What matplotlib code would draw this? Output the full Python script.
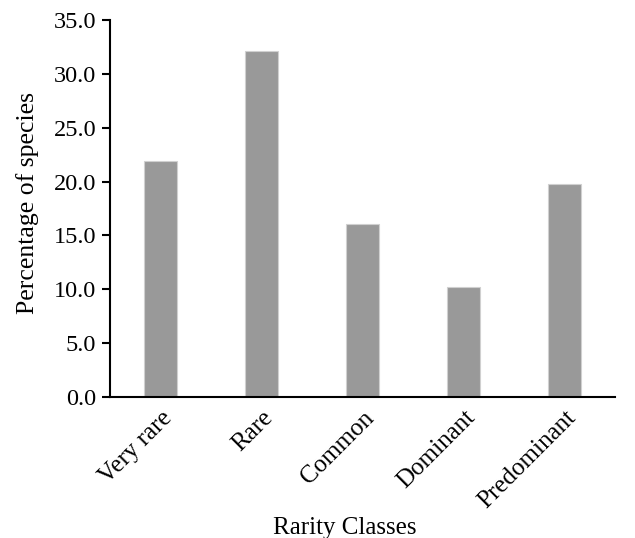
import matplotlib.pyplot as plt
import matplotlib as mpl
import numpy as np

mpl.rcParams['font.family'] = ['Liberation Serif', 'DejaVu Serif']
mpl.rcParams['font.size'] = 18

# Data
classes = ['Very rare', 'Rare', 'Common', 'Dominant', 'Predominant']
percent = [21.9, 32.1, 16.1, 10.2, 19.8]

fig = plt.figure(figsize=(6.35, 5.38), dpi=100)
ax = fig.add_axes([0.1732, 0.2621, 0.7953, 0.7007])

x = np.arange(len(classes))
ax.bar(x, percent, width=0.32, color='#999999', edgecolor='#d0d0d0', linewidth=0.8)

ax.set_xlim(-0.5, len(classes) - 0.5)
ax.set_ylim(0, 35)
ax.set_yticks(np.arange(0, 35.1, 5))
ax.set_yticklabels([f'{v:.1f}' for v in np.arange(0, 35.1, 5)], fontsize=17.5)
ax.set_xticks(x)
ax.set_xticklabels(classes, rotation=45, ha='right', rotation_mode='anchor', fontsize=18)

ax.spines['top'].set_visible(False)
ax.spines['right'].set_visible(False)
ax.spines['left'].set_linewidth(1.5)
ax.spines['bottom'].set_linewidth(1.5)
ax.tick_params(axis='y', direction='out', length=6, width=1.5, pad=4)
ax.tick_params(axis='x', length=0, pad=7)

ax.set_ylabel('Percentage of species', fontsize=18.5)
ax.yaxis.set_label_coords(-0.14, 0.515)
ax.set_xlabel('Rarity Classes', fontsize=18)
ax.xaxis.set_label_coords(0.465, -0.318)

plt.savefig('out.png', dpi=100)
